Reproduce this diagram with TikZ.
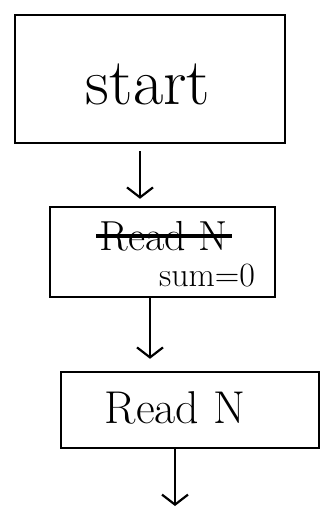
\documentclass[tikz,border=0pt]{standalone}
\usepackage{fontspec}
\usetikzlibrary{arrows.meta}
\begin{document}
\begin{tikzpicture}[x=1pt,y=-1pt,
  flowbox/.style={draw,line width=2.4pt,rectangle,inner sep=0pt},
  flowarrow/.style={line width=2.4pt,-{Straight Barb[length=10pt,width=26pt,line width=2.2pt]}},
  hand/.style={font=\fontsize{#1}{#1}\selectfont}]
\useasboundingbox (0,0) rectangle (324,508);
\node[flowbox,minimum width=270pt,minimum height=128pt] (start) at (150,79) {};
\node[hand=66] (starttext) at (148,84) {start};
\node[flowbox,minimum width=225pt,minimum height=90pt] (init) at (162.5,252) {};
\node[hand=42] (struck) at (164,236) {Read N};
\draw[line width=4.5pt] (struck.west) -- (struck.east);
\node[hand=34] (sumtext) at (207,276) {sum=0};
\node[flowbox,minimum width=258pt,minimum height=76pt] (readn) at (190,410) {};
\node[hand=46] (readtext) at (175,408) {Read N};
\coordinate (next) at (175,506);
\draw[flowarrow,shorten <=7pt,shorten >=7pt] ([xshift=-10pt]start.south) -- ([xshift=-22.5pt]init.north);
\draw[flowarrow,shorten >=12pt] ([xshift=-12.5pt]init.south) -- ([xshift=-40pt]readn.north);
\draw[flowarrow] ([xshift=-15pt]readn.south) -- (next);
\end{tikzpicture}
\end{document}
